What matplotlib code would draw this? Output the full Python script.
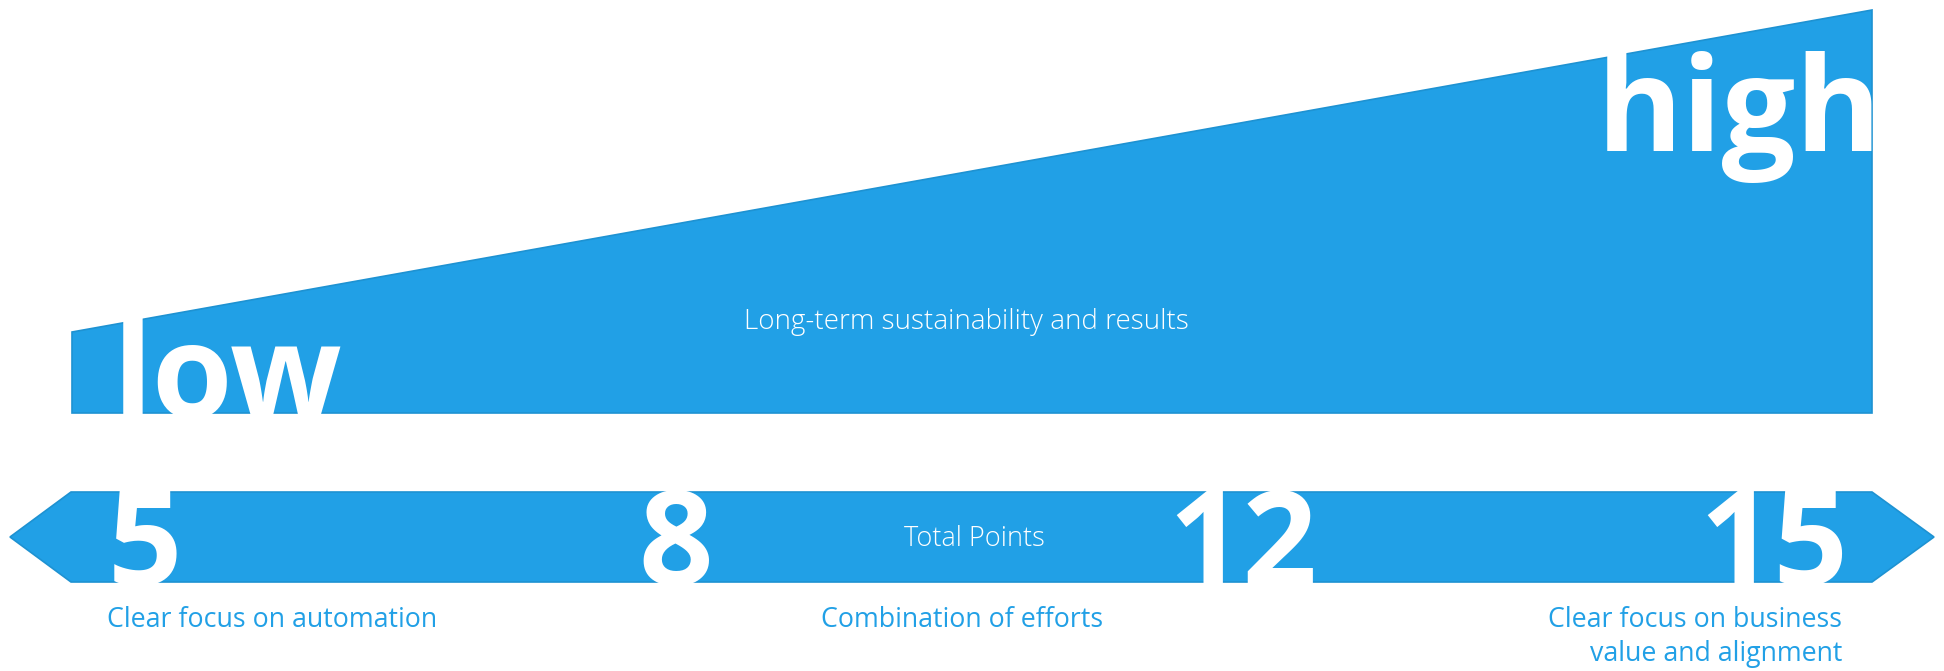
import matplotlib.pyplot as plt
from matplotlib.patches import Polygon

# dados do diagrama
escala_pontos = ["5", "8", "12", "15"]
pontos_x = [145, 676, 1243, 1774]
descricoes = ["Clear focus on automation", "Combination of efforts",
              "Clear focus on business\nvalue and alignment"]
descricoes_x = [272, 962, 1842]
descricoes_ha = ["center", "center", "right"]
nivel_labels = ["low", "high"]
titulo_area = "Long-term sustainability and results"
titulo_seta = "Total Points"

azul = "#21A0E6"
borda = "#1E92D2"

W, H = 1944, 671
fig = plt.figure(figsize=(W / 100, H / 100), dpi=100)
ax = fig.add_axes([0, 0, 1, 1])
ax.set_xlim(0, W)
ax.set_ylim(H, 0)
ax.axis("off")

# trapezio (sustentabilidade)
trap = Polygon([(72, 413), (72, 332), (1872, 10), (1872, 413)],
               closed=True, facecolor=azul, edgecolor=borda, linewidth=1.2)
ax.add_patch(trap)

# seta dupla (pontos)
seta = Polygon([(10, 537), (71, 492), (1872, 492), (1934, 537), (1872, 582), (71, 582)],
               closed=True, facecolor=azul, edgecolor=borda, linewidth=1.2)
ax.add_patch(seta)

fonte = "Open Sans"

ax.text(113, 418, nivel_labels[0], color="white", fontsize=94, fontweight="bold",
        family=fonte, ha="left", va="baseline")
ax.text(1882, 151, nivel_labels[1], color="white", fontsize=94, fontweight="bold",
        family=fonte, ha="right", va="baseline")

ax.text(966, 322, titulo_area, color="white", fontsize=20, family=fonte,
        fontweight="light", ha="center", va="center")
ax.text(974, 539, titulo_seta, color="white", fontsize=19.5, family=fonte,
        fontweight="light", ha="center", va="center")

for p, x in zip(escala_pontos, pontos_x):
    ax.text(x, 585, p, color="white", fontsize=94, fontweight="bold",
            family=fonte, ha="center", va="baseline")

for d, x, ha in zip(descricoes, descricoes_x, descricoes_ha):
    ax.text(x, 606, d, color=azul, fontsize=19.3, family=fonte, ha=ha,
            va="top", multialignment=ha, linespacing=1.3)

fig.savefig("out.png", dpi=100)
